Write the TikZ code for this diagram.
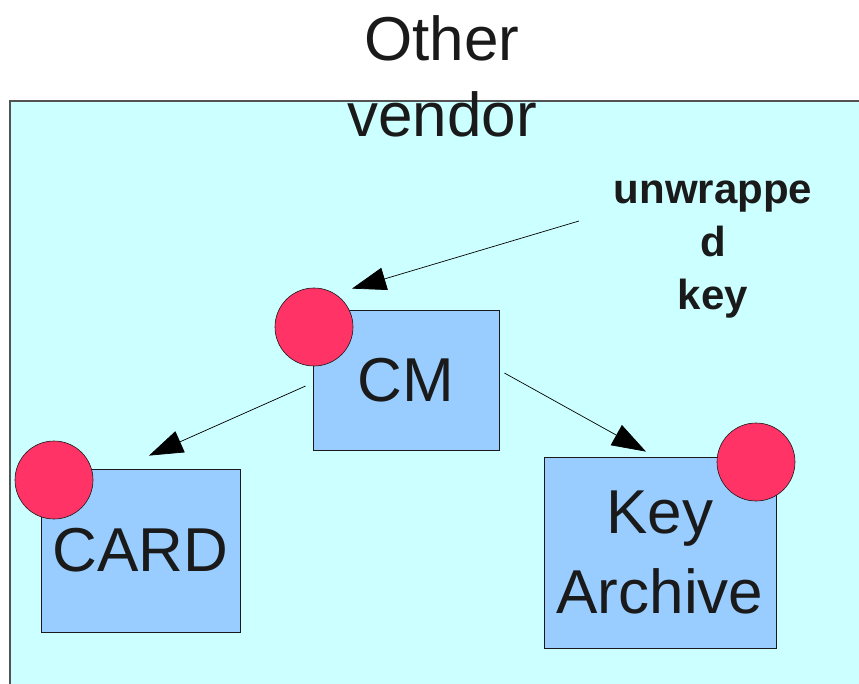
\documentclass[tikz,border=0pt]{standalone}
\usepackage{fontspec}
\setmainfont{Liberation Sans}
\usetikzlibrary{arrows.meta,calc}
\definecolor{panel}{HTML}{CCFFFF}
\definecolor{boxblue}{HTML}{99CCFF}
\definecolor{dotred}{HTML}{FF3366}
\definecolor{ink}{HTML}{1A1A1A}
\newcommand\bigface{\fontsize{62}{76}\selectfont}
\begin{document}
\begin{tikzpicture}[x=1pt,y=-1pt,
  unit/.style={draw=ink, line width=0.8pt, fill=boxblue, inner sep=0pt,
    font=\bigface, text=ink, align=center},
  dot/.style={circle, draw=ink, line width=0.6pt, fill=dotred,
    minimum size=78pt, inner sep=0pt},
  flow/.style={draw=black, line width=0.7pt, -{Triangle[length=34pt,width=23pt]}}]
\useasboundingbox (0,0) rectangle (859,684);
\clip (0,0) rectangle (859,684);
\fill[white] (0,0) rectangle (859,684);
% vendor panel, running off the right and bottom edges
\draw[fill=panel, draw=ink!75, line width=1.2pt] (10,101) rectangle (900,720);

% title (anchored at the baseline of its last line)
\node[font=\bigface, text=ink, align=center, anchor=base] (title) at (442,137) {Other\\vendor};

% components
\node[unit, minimum width=186pt, minimum height=140pt] (cm) at (406,380) {CM};
\node[unit, minimum width=199pt, minimum height=163pt] (card) at (140.5,550.5) {CARD};
\node[unit, minimum width=232pt, minimum height=191pt,
  font=\fontsize{62}{80}\selectfont] (archive) at (660,552.5) {Key\\Archive};

% red markers
\node[dot] (cmdot) at (314,327) {};
\node[dot] (carddot) at (54,480) {};
\node[dot] (archivedot) at (756,462) {};

% label
\node[font=\fontsize{42}{53}\selectfont\bfseries, text=ink, align=center, anchor=base]
  (note) at (713,310) {unwrappe\\d\\key};

% connectors
\coordinate (notetail) at (579,221);
\draw[flow] (notetail) -- ($(cm.north)+(-54,-21)$);
\draw[flow] ($(cm.west)+(-7,6)$) -- ($(card.north)+(8.5,-13)$);
\draw[flow] ($(cm.east)+(5,-7)$) -- ($(archive.north)+(-14,-5)$);
\end{tikzpicture}
\end{document}
